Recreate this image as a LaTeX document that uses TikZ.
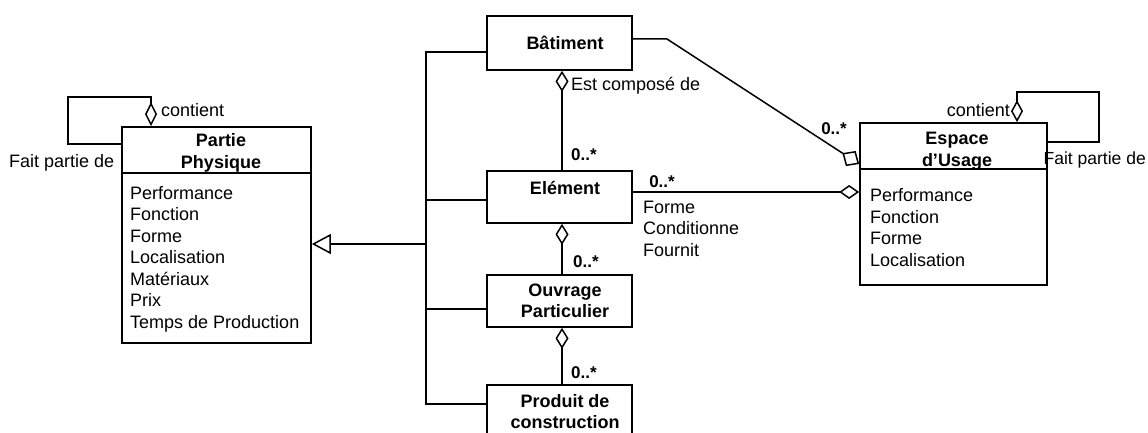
\documentclass[tikz,border=0pt]{standalone}
\usepackage{fontspec}
\setmainfont{Liberation Sans}
\usetikzlibrary{arrows.meta,calc}
\begin{document}
\begin{tikzpicture}[x=1pt,y=-1pt,
  box/.style={draw,line width=1.7pt,inner sep=0pt},
  ttl/.style={inner sep=0pt,align=center,font=\fontsize{18}{21.5}\selectfont\bfseries},
  attr/.style={inner sep=0pt,align=left,anchor=north west,font=\fontsize{18}{21.5}\selectfont},
  lbl/.style={inner sep=0pt,font=\fontsize{18}{21.5}\selectfont},
  mult/.style={inner sep=0pt,font=\fontsize{17}{20}\selectfont\bfseries},
  conn/.style={line width=1.5pt},
  agg/.style={conn,{Diamond[open,length=21pt,width=13pt]}-},
  aggend/.style={conn,-{Diamond[open,length=20pt,width=14pt]}},
  inh/.style={conn,-{Triangle[open,length=19pt,width=20pt]}}
]
\useasboundingbox (0,0) rectangle (1148,433);

% boxes
\node[box,minimum width=189pt,minimum height=216pt] (pp) at (216.5,235) {};
\node[box,minimum width=145pt,minimum height=54pt] (bat) at (559.5,43) {};
\node[box,minimum width=145pt,minimum height=52pt] (el) at (559.5,197) {};
\node[box,minimum width=145pt,minimum height=52pt] (ouv) at (559.5,301) {};
\node[box,minimum width=145pt,minimum height=75pt] (prod) at (559.5,422.5) {};
\node[box,minimum width=187pt,minimum height=162pt] (es) at (953.5,204) {};

% compartment separators
\draw[line width=1.7pt] ($(pp.north west)+(0,47)$) -- ($(pp.north east)+(0,47)$);
\draw[line width=1.7pt] ($(es.north west)+(0,47)$) -- ($(es.north east)+(0,47)$);

% titles
\node[ttl] (ppT) at (221,153) {Partie\\Physique};
\node[ttl] (batT) at (565,43) {Bâtiment};
\node[ttl] (elT) at (565,188) {Elément};
\node[ttl] (ouvT) at (565,301) {Ouvrage\\Particulier};
\node[ttl] (prodT) at (565,411.5) {Produit de\\construction};
\node[ttl] (esT) at (957,151) {Espace\\d{\char"27}Usage};

% attributes
\node[attr] (ppA) at (130,186) {Performance\\Fonction\\Forme\\Localisation\\Matériaux\\Prix\\Temps de Production};
\node[attr] (esA) at (870,188.5) {Performance\\Fonction\\Forme\\Localisation};

% generalisation tree
\coordinate (tA) at (426,52);
\coordinate (tE) at (426,200);
\coordinate (tM) at (426,244);
\coordinate (tO) at (426,309);
\coordinate (tP) at (426,404);
\draw[conn] (tA -| bat.west) -- (tA) -- (tP) -- (tP -| prod.west);
\draw[conn] (tE) -- (tE -| el.west);
\draw[conn] (tO) -- (tO -| ouv.west);
\draw[inh] (tM) -- (tM -| pp.east);

% compositions down the chain
\draw[agg] ([xshift=2.5pt]bat.south) -- ([xshift=2.5pt]el.north);
\draw[agg] ([xshift=2.5pt]el.south) -- ([xshift=2.5pt]ouv.north);
\draw[agg] ([xshift=2.5pt]ouv.south) -- ([xshift=2.5pt]prod.north);

% Element -- Espace
\draw[aggend] ([yshift=5pt]el.east) -- ([yshift=5pt]el.east -| es.west);
% Batiment -- Espace
\draw[conn,-{Diamond[open,length=20pt,width=18pt]}] ([yshift=4pt]bat.east) -- (667,39) -- ([yshift=40pt]es.west);

% self loops
\draw[agg,{Diamond[open,length=24pt,width=12pt]}-] ([xshift=-65.5pt]pp.north) -- ++(0,-29) -| (68,144) -- (68,144 -| pp.west);
\draw[agg,{Diamond[open,length=22pt,width=12pt]}-] ([xshift=63.5pt]es.north) -- ++(0,-30) -| (1099,142) -- (1099,142 -| es.east);

% labels
\node[lbl,anchor=west] (l1) at (161,110) {contient};
\node[lbl,anchor=west] (l2) at (9,163) {Fait partie de};
\node[lbl,anchor=west] (l3) at (571,86) {Est composé de};
\node[lbl,anchor=east] (l4) at (1010,110) {contient};
\node[lbl,anchor=east,font=\fontsize{17.5}{21}\selectfont] (l5) at (1146,160) {Fait partie de};
\node[attr] (l6) at (643,200.5) {Forme\\Conditionne\\Fournit};

\node[mult] (m1) at (584,155) {0..*};
\node[mult] (m2) at (586,262) {0..*};
\node[mult] (m3) at (584,373) {0..*};
\node[mult] (m4) at (662,182) {0..*};
\node[mult] (m5) at (834,129) {0..*};
\end{tikzpicture}
\end{document}
